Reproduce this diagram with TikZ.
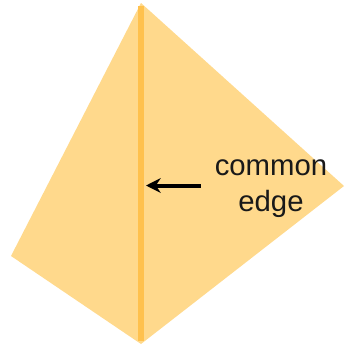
\documentclass[tikz,border=0pt]{standalone}
\usepackage{fontspec}
\setmainfont{Liberation Sans}
\usepackage{tikz}
\usetikzlibrary{positioning,arrows.meta,calc}
\definecolor{facefill}{HTML}{FFD98C}
\definecolor{edgeline}{HTML}{FFC14D}
\begin{document}
\begin{tikzpicture}[
    x=0.75pt, y=-0.75pt,
    face/.style={fill=facefill, draw=none},
    common/.style={draw=edgeline, line width=3.8pt, shorten >=2pt, shorten <=2pt},
    arr/.style={-{Stealth[length=11pt,width=11pt]}, line width=3pt, black},
    lbl/.style={align=center, font=\fontsize{22}{24.8}\selectfont, inner sep=0pt, text=black!90}
  ]
    \useasboundingbox (0,0) rectangle (344,347);
    \coordinate (top) at (141,3);
    \coordinate (left) at (11,256);
    \coordinate (bottom) at (141,344);
    \coordinate (right) at (344,186);
    \coordinate (tail) at (200.5,185.5);
    \coordinate (head) at (146,185.5);

    \fill[face] (top) -- (left) -- (bottom) -- (right) -- cycle;
    \draw[common] (top) -- (bottom);
    \draw[arr] (tail) -- (head);

    \node[lbl] (label) at (271,189) {common\\[2pt]edge};
  \end{tikzpicture}
\end{document}
